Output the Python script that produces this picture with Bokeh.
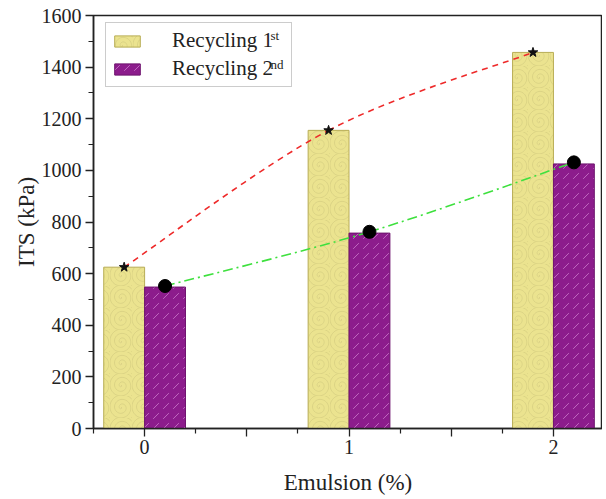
from bokeh.plotting import figure
from bokeh.models import (ColumnDataSource, FixedTicker, Legend, LegendItem, Label)
from bokeh.embed import file_html
from bokeh.resources import INLINE

# ---- data ----
emulsion = [0, 1, 2]
its_recycling1 = [625, 1155, 1457]
its_recycling2 = [548, 757, 1025]
marker1 = [625, 1155, 1457]
marker2 = [552, 762, 1031]
series_names = ["Recycling 1", "Recycling 2"]
series_sups = ["st", "nd"]
x_tick_labels = {0: "0", 1: "1", 2: "2"}

FONT = "Liberation Serif"
BAR_W = 0.2
OFF = 0.1

p = figure(width=602, height=497, x_range=(-0.25, 2.24), y_range=(0, 1600),
           output_backend="svg", toolbar_location=None,
           min_border_left=93, min_border_right=0, min_border_top=15, min_border_bottom=69)
p.grid.visible = False
p.background_fill_color = "white"
p.border_fill_color = "white"
p.outline_line_color = "#222222"
p.outline_line_width = 1.5

x1 = [e - OFF for e in emulsion]
x2 = [e + OFF for e in emulsion]

src1 = ColumnDataSource(dict(x=x1, top=its_recycling1))
src2 = ColumnDataSource(dict(x=x2, top=its_recycling2))

r1 = p.vbar(x="x", top="top", width=BAR_W, source=src1,
            fill_color="#ebe38f", line_color="#b8ad55", line_width=1,
            hatch_pattern="spiral", hatch_color="#7d7745", hatch_alpha=0.25,
            hatch_scale=22, hatch_weight=0.6)
r2 = p.vbar(x="x", top="top", width=BAR_W, source=src2,
            fill_color="#8c1c8c", line_color="#6e146e", line_width=1,
            hatch_pattern="right_diagonal_dash", hatch_color="#e9a6e9", hatch_alpha=0.55,
            hatch_scale=10, hatch_weight=1)

# smooth (Catmull-Rom as Bezier) connecting curves through markers
def bezier_segments(xs, ys):
    P = list(zip(xs, ys))
    P = [P[0]] + P + [P[-1]]
    segs = dict(x0=[], y0=[], x1=[], y1=[], cx0=[], cy0=[], cx1=[], cy1=[])
    for i in range(1, len(P) - 2):
        p0, p1, p2, p3 = P[i - 1], P[i], P[i + 1], P[i + 2]
        segs["x0"].append(p1[0]); segs["y0"].append(p1[1])
        segs["x1"].append(p2[0]); segs["y1"].append(p2[1])
        segs["cx0"].append(p1[0] + (p2[0] - p0[0]) / 6)
        segs["cy0"].append(p1[1] + (p2[1] - p0[1]) / 6)
        segs["cx1"].append(p2[0] - (p3[0] - p1[0]) / 6)
        segs["cy1"].append(p2[1] - (p3[1] - p1[1]) / 6)
    return segs

p.bezier(source=ColumnDataSource(bezier_segments(x1, marker1)),
         x0="x0", y0="y0", x1="x1", y1="y1", cx0="cx0", cy0="cy0", cx1="cx1", cy1="cy1",
         line_color="#ee2a2a", line_width=1.6, line_dash="6 5")
p.bezier(source=ColumnDataSource(bezier_segments(x2, marker2)),
         x0="x0", y0="y0", x1="x1", y1="y1", cx0="cx0", cy0="cy0", cx1="cx1", cy1="cy1",
         line_color="#3ee03e", line_width=1.6, line_dash="10 4 2 4")

p.scatter(x1, marker1, marker="star", size=10, fill_color="#111111", line_color="#111111")
p.scatter(x2, marker2, marker="circle", size=13, fill_color="#000000", line_color="#000000")

# axes
xax = p.xaxis[0]
yax = p.yaxis[0]
xax.ticker = FixedTicker(ticks=[0, 0.5, 1, 1.5, 2],
                         minor_ticks=[-0.25, 0.25, 0.75, 1.25, 1.75, 2.25])
xax.major_label_overrides = {0: x_tick_labels[0], 0.5: "", 1: x_tick_labels[1],
                             1.5: "", 2: x_tick_labels[2]}
yax.ticker = FixedTicker(ticks=list(range(0, 1601, 200)),
                         minor_ticks=list(range(0, 1601, 100)))
for ax in (xax, yax):
    ax.axis_line_color = "#222222"
    ax.axis_line_width = 1.5
    ax.major_tick_line_color = "#222222"
    ax.minor_tick_line_color = "#222222"
    ax.major_tick_line_width = 1.3
    ax.minor_tick_line_width = 1.2
    ax.major_tick_out = 8
    ax.major_tick_in = 0
    ax.minor_tick_out = 5
    ax.minor_tick_in = 0
    ax.major_label_text_font = FONT
    ax.major_label_text_font_size = "20px"
    ax.major_label_text_color = "#222222"
    ax.axis_label_text_font = FONT
    ax.axis_label_text_font_style = "normal"
    ax.axis_label_text_color = "#222222"
xax.axis_label = "Emulsion (%)"
yax.axis_label = "ITS (kPa)"
xax.axis_label_text_font_size = "23px"
yax.axis_label_text_font_size = "23px"
xax.major_label_standoff = 3
yax.major_label_standoff = 4
xax.axis_label_standoff = 13
yax.axis_label_standoff = 0

legend = Legend(items=[LegendItem(label=series_names[0], renderers=[r1]),
                       LegendItem(label=series_names[1], renderers=[r2])],
                location=(12, 341))
legend.label_text_font = FONT
legend.label_text_font_size = "21px"
legend.label_text_color = "#222222"
legend.glyph_width = 32
legend.glyph_height = 14
legend.label_standoff = 29
legend.label_width = 114
legend.label_height = 21
legend.spacing = 3
legend.padding = 5
legend.margin = 0
legend.border_line_color = "#999999"
legend.border_line_width = 1
legend.background_fill_alpha = 0
p.add_layout(legend, "center")

sup_x = [177, 177]
sup_y = [386, 357]
for i, s in enumerate(series_sups):
    p.add_layout(Label(x=sup_x[i], y=sup_y[i], x_units="screen", y_units="screen",
                       text=s, text_font=FONT, text_font_size="13px",
                       text_color="#222222", text_baseline="bottom", level="overlay"))

open("out.html", "w").write(file_html(p, INLINE))
